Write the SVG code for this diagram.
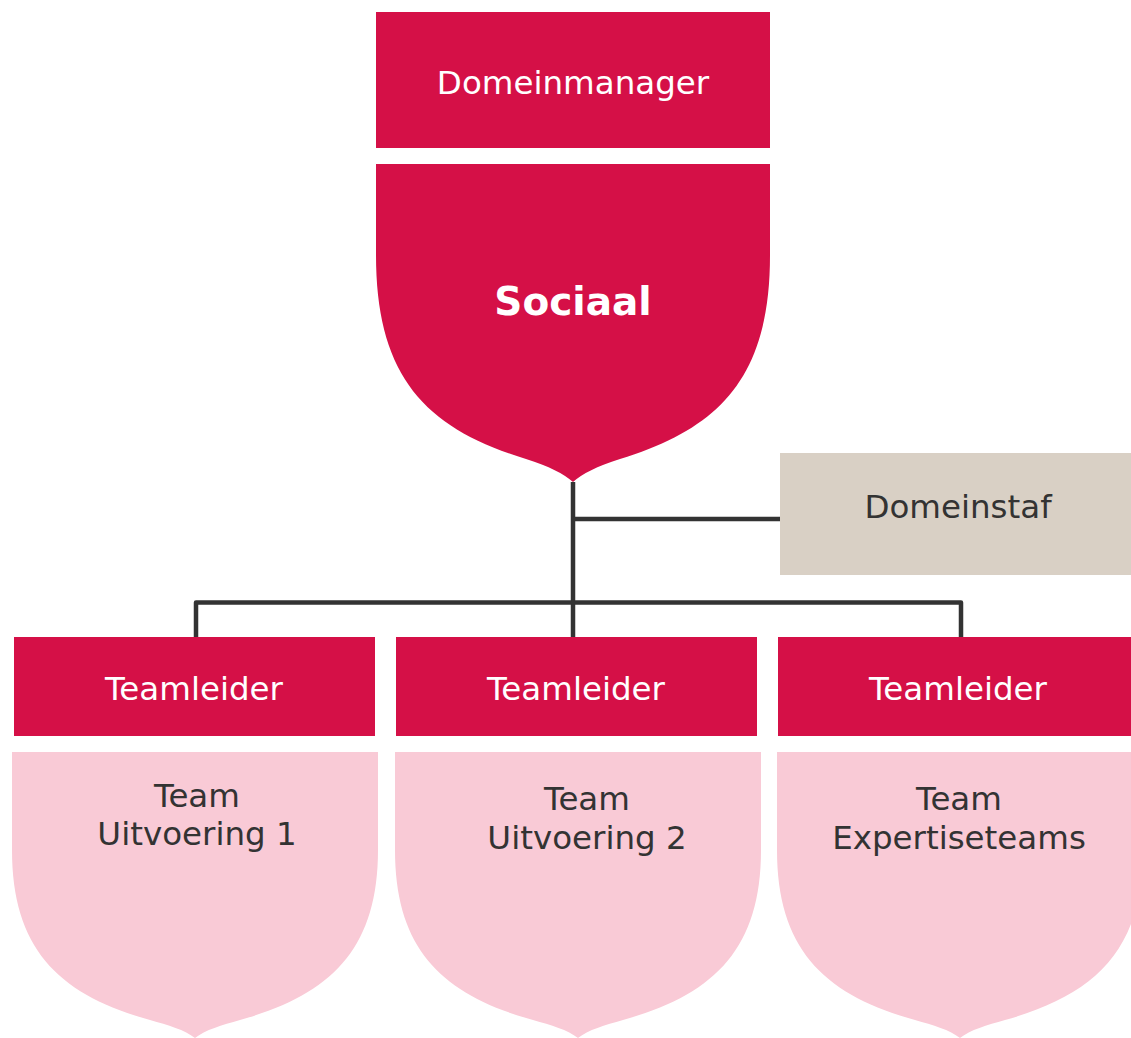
<svg xmlns="http://www.w3.org/2000/svg" width="1131" height="1038" viewBox="0 0 1131 1038">
<style>
.red{fill:#d51047}
.pink{fill:#f9cad6}
.beige{fill:#d9d0c5}
.t{font-family:"DejaVu Sans","Liberation Sans",sans-serif;font-size:32.5px;text-anchor:middle}
.w{fill:#ffffff}
.d{fill:#333333}
.b{font-weight:bold;font-size:39px}
.conn{fill:none;stroke:#333333;stroke-width:4.5;stroke-linejoin:round}
</style>
<rect width="1131" height="1038" fill="#ffffff"/>
<g id="connectors">
<path class="conn" d="M573,482 V637"/>
<path class="conn" d="M573,519 H780"/>
<path class="conn" d="M196,637 V602.5 H961 V637"/>
</g>
<g id="domeinmanager">
<rect class="red" x="376" y="12" width="394" height="136"/>
<text class="t w" x="573" y="94">Domeinmanager</text>
</g>
<g id="sociaal">
<path class="red" d="M376,164 H770 V255 C770,375 722,428 620,459 C597,466 582,474 573,482 C564,474 549,466 526,459 C424,428 376,375 376,255 Z"/>
<text class="t w b" x="573" y="315">Sociaal</text>
</g>
<g id="domeinstaf">
<rect class="beige" x="780" y="453" width="351" height="122"/>
<text class="t d" x="958" y="518">Domeinstaf</text>
</g>
<g id="teamleider1">
<rect class="red" x="14" y="637" width="361" height="99"/>
<text class="t w" x="194" y="700">Teamleider</text>
</g>
<g id="teamleider2">
<rect class="red" x="396" y="637" width="361" height="99"/>
<text class="t w" x="576" y="700">Teamleider</text>
</g>
<g id="teamleider3">
<rect class="red" x="778" y="637" width="353" height="99"/>
<text class="t w" x="958" y="700">Teamleider</text>
</g>
<g id="team1">
<path class="pink" d="M12,752 H378 V850 C378,950 330,995 240,1020 C222,1025 205,1030 195,1038 C185,1030 168,1025 150,1020 C60,995 12,950 12,850 Z"/>
<text class="t d" x="197" y="807">Team</text>
<text class="t d" x="197" y="845">Uitvoering 1</text>
</g>
<g id="team2">
<path class="pink" d="M395,752 H761 V850 C761,950 713,995 623,1020 C605,1025 588,1030 578,1038 C568,1030 551,1025 533,1020 C443,995 395,950 395,850 Z"/>
<text class="t d" x="587" y="810">Team</text>
<text class="t d" x="587" y="849">Uitvoering 2</text>
</g>
<g id="team3">
<path class="pink" d="M777,752 H1143 V850 C1143,950 1095,995 1005,1020 C987,1025 970,1030 960,1038 C950,1030 933,1025 915,1020 C825,995 777,950 777,850 Z"/>
<text class="t d" x="959" y="810">Team</text>
<text class="t d" x="959" y="849">Expertiseteams</text>
</g>
</svg>
